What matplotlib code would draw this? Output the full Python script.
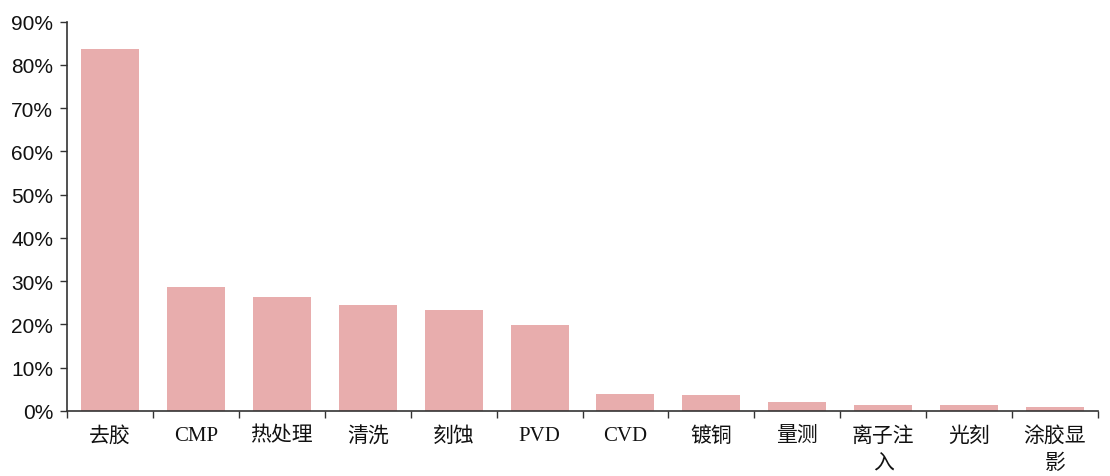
import matplotlib
matplotlib.use("Agg")
import matplotlib.pyplot as plt
import numpy as np
from matplotlib.ticker import PercentFormatter, FixedLocator

categories = ["去胶", "CMP", "热处理", "清洗", "刻蚀", "PVD", "CVD",
              "镀铜", "量测", "离子注\n入", "光刻", "涂胶显\n影"]
shares = [83.6, 28.6, 26.3, 24.5, 23.4, 19.8, 3.9, 3.6, 2.1, 1.3, 1.3, 0.95]
y_ticks = [0, 10, 20, 30, 40, 50, 60, 70, 80, 90]

bar_color = "#E8ADAD"
axis_color = "#333333"

fig = plt.figure(figsize=(11.10, 4.77), dpi=100)
ax = fig.add_axes([67 / 1110, 65 / 477, (1098 - 67) / 1110, (412 - 22.7) / 477])

x = np.arange(len(categories))
ax.bar(x, shares, width=0.675, color=bar_color, edgecolor="none", zorder=2)

ax.set_xlim(-0.5, len(categories) - 0.5)
ax.set_ylim(0, 90)

# y axis: percent labels in a sans face
ax.yaxis.set_major_locator(FixedLocator(y_ticks))
ax.yaxis.set_major_formatter(PercentFormatter(decimals=0))
for lbl in ax.get_yticklabels():
    lbl.set_fontfamily(["Liberation Sans", "DejaVu Sans"])
    lbl.set_fontsize(15)
    lbl.set_color("#111111")
ax.tick_params(axis="y", direction="out", length=5, width=1, color=axis_color, pad=5)

# x axis: labels at category centres, tick marks at category boundaries
ax.set_xticks(x)
ax.set_xticklabels(categories, family=["Liberation Serif", "Noto Sans CJK SC"],
                   fontsize=15, color="#111111", linespacing=1.55, va="top")
for lbl in ax.get_xticklabels():
    if lbl.get_text().isascii():
        lbl.set_fontsize(15)
ax.tick_params(axis="x", which="major", length=0, pad=11)
ax.set_xticks(np.arange(-0.5, len(categories)), minor=True)
ax.tick_params(axis="x", which="minor", direction="out", length=5, width=1, color=axis_color)

for side in ("top", "right"):
    ax.spines[side].set_visible(False)
for side in ("left", "bottom"):
    ax.spines[side].set_color(axis_color)
    ax.spines[side].set_linewidth(1.2)

fig.savefig("out.png", dpi=100, facecolor="white")
